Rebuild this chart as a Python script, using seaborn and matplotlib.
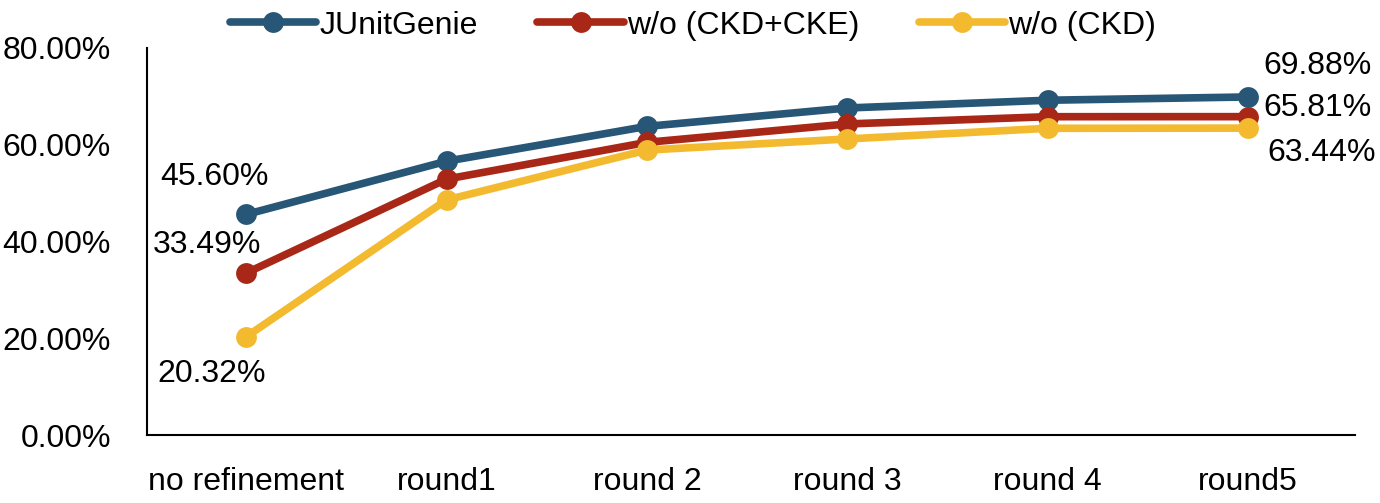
import pandas as pd
import matplotlib.pyplot as plt
import seaborn as sns

# ==============================
# 1. Data
# ==============================
stages = ["no refinement", "round1", "round 2", "round 3", "round 4", "round5"]
junitgenie = [45.60, 56.6, 63.8, 67.6, 69.2, 69.88]
wo_ckd_cke = [33.49, 52.9, 60.5, 64.3, 65.8, 65.81]
wo_ckd = [20.32, 48.6, 58.9, 61.2, 63.4, 63.44]

series_names = ["JUnitGenie", "w/o (CKD+CKE)", "w/o (CKD)"]
colors = ["#285676", "#A82716", "#F3BA2F"]

df = pd.DataFrame({
    "stage": stages * 3,
    "pos": list(range(len(stages))) * 3,
    "rate": junitgenie + wo_ckd_cke + wo_ckd,
    "method": [n for n in series_names for _ in stages],
})

# ==============================
# 2. Plot
# ==============================
sns.set_style("white")
plt.rcParams["font.family"] = ["Liberation Sans", "DejaVu Sans"]
plt.rcParams["text.color"] = "black"
plt.rcParams["xtick.color"] = "black"
plt.rcParams["ytick.color"] = "black"

FS = 23

fig = plt.figure(figsize=(13.8, 5.03), dpi=100)
ax = fig.add_axes([0.1065, 0.135, 0.8755, 0.7696])

sns.lineplot(
    data=df, x="pos", y="rate", hue="method", hue_order=series_names,
    palette=colors, marker="o", markersize=15, markeredgewidth=0,
    linewidth=5.5, sort=False, ax=ax
)

ax.set_xlim(-0.495, 5.535)
ax.set_ylim(0, 80)
ax.set_xticks(range(len(stages)))
ax.set_xticklabels(stages)
ax.set_yticks([0, 20, 40, 60, 80])
ax.set_yticklabels([f"{v:.2f}%" for v in [0, 20, 40, 60, 80]])
ax.tick_params(axis="both", labelsize=FS, length=0, labelcolor="black")
ax.tick_params(axis="x", pad=23)
ax.tick_params(axis="y", pad=26)
ax.set_xlabel("")
ax.set_ylabel("")
for side in ["top", "right"]:
    ax.spines[side].set_visible(False)
for side in ["left", "bottom"]:
    ax.spines[side].set_color("black")
    ax.spines[side].set_linewidth(1.5)

# value labels at start and end
ax.text(-0.16, 53.4, f"{junitgenie[0]:.2f}%", fontsize=FS, ha="center", va="center")
ax.text(-0.1975, 39.3, f"{wo_ckd_cke[0]:.2f}%", fontsize=FS, ha="center", va="center")
ax.text(-0.1725, 12.7, f"{wo_ckd[0]:.2f}%", fontsize=FS, ha="center", va="center")
ax.text(5.345, 76.3, f"{junitgenie[-1]:.2f}%", fontsize=FS, ha="center", va="center")
ax.text(5.345, 67.5, f"{wo_ckd_cke[-1]:.2f}%", fontsize=FS, ha="center", va="center")
ax.text(5.37, 58.4, f"{wo_ckd[-1]:.2f}%", fontsize=FS, ha="center", va="center")

leg = ax.legend(
    loc="center", bbox_to_anchor=(0.452, 1.058), ncol=3, frameon=False,
    fontsize=FS, handlelength=2.7, columnspacing=1.87, handletextpad=0.1,
    borderaxespad=0
)

fig.savefig("out.png", dpi=100)
